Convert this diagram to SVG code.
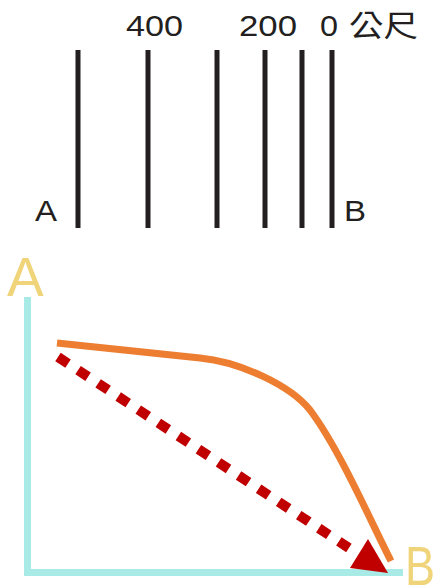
<svg xmlns="http://www.w3.org/2000/svg" width="436" height="588" viewBox="0 0 436 588">
<style>
.bar{stroke:#231f20;stroke-width:5}
.t{font-family:"Liberation Sans","Noto Sans CJK TC",sans-serif;font-size:30px;fill:#231f20}
.big{font-family:"Liberation Sans",sans-serif;font-size:55px;fill:#f0d47a}
</style>
<rect width="436" height="588" fill="#fff"/>
<g id="scale">
<line class="bar" x1="78" y1="50" x2="78" y2="228"/>
<line class="bar" x1="148" y1="50" x2="148" y2="228"/>
<line class="bar" x1="217" y1="50" x2="217" y2="228"/>
<line class="bar" x1="265" y1="50" x2="265" y2="228"/>
<line class="bar" x1="302" y1="50" x2="302" y2="228"/>
<line class="bar" x1="332" y1="50" x2="332" y2="228"/>
<text class="t" x="126" y="36" textLength="57" lengthAdjust="spacingAndGlyphs">400</text>
<text class="t" x="239" y="36" textLength="58" lengthAdjust="spacingAndGlyphs">200</text>
<text class="t" x="320" y="36" textLength="18" lengthAdjust="spacingAndGlyphs">0</text>
<text class="t" x="349" y="36" textLength="69" lengthAdjust="spacingAndGlyphs">公尺</text>
<text class="t" x="35" y="221" textLength="22" lengthAdjust="spacingAndGlyphs">A</text>
<text class="t" x="344" y="221" textLength="22" lengthAdjust="spacingAndGlyphs">B</text>
</g>
<g id="axes">
<polyline points="27.5,297 27.5,572.5 403,572.5" fill="none" stroke="#a8ebe6" stroke-width="7"/>
<text class="big" x="7" y="296">A</text>
<text class="big" x="405" y="585" textLength="30" lengthAdjust="spacingAndGlyphs">B</text>
</g>
<g id="connectors">
<path d="M57,343 L200,358 C240,362 290,385 310,410 C340,450 370,520 391,561" fill="none" stroke="#ed7d31" stroke-width="7"/>
<line x1="58" y1="357" x2="355" y2="552" stroke="#c00000" stroke-width="10" stroke-dasharray="12 12"/>
<polygon points="350,568 368,539 388,573" fill="#c00000"/>
</g>
</svg>
